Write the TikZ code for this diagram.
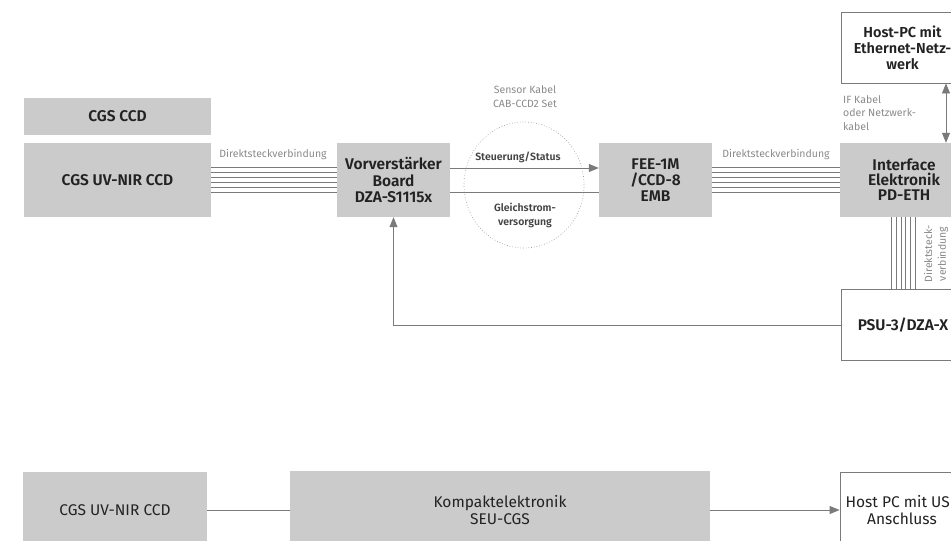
\documentclass[tikz,border=0pt]{standalone}
\usepackage{fontspec}
\setmainfont{Fira Sans}[BoldFont={Fira Sans SemiBold}]
\usetikzlibrary{arrows.meta}
\definecolor{boxgray}{HTML}{CBCBCB}
\definecolor{linegray}{HTML}{7A7A7A}
\definecolor{labelgray}{HTML}{8A8A8A}
\definecolor{textdark}{HTML}{222222}
\tikzset{
  graybox/.style={fill=boxgray, draw=none, inner sep=0pt, align=center, text=textdark,
    font=\fontsize{15.5}{16}\selectfont\bfseries},
  whitebox/.style={fill=white, draw=linegray, line width=0.8pt, inner sep=0pt, align=center, text=textdark,
    font=\fontsize{15.5}{16}\selectfont\bfseries},
  botbox/.style={fill=boxgray, draw=none, inner sep=0pt, align=center, text=textdark,
    font=\fontsize{15.5}{17}\selectfont},
  botwhite/.style={fill=white, draw=linegray, line width=0.8pt, inner sep=0pt, align=center, text=textdark,
    font=\fontsize{15.5}{17}\selectfont},
  lbl/.style={text=labelgray, inner sep=0pt, font=\fontsize{10.5}{13.5}\selectfont},
  darklbl/.style={text=textdark!85, inner sep=0pt, font=\fontsize{10.5}{14}\selectfont\bfseries, align=center},
  wire/.style={draw=linegray, line width=0.8pt},
  thinwire/.style={draw=linegray, line width=0.6pt},
  tipped/.style={wire, -{Triangle[length=10pt,width=8pt]}},
  bothtipped/.style={wire, {Triangle[length=10pt,width=8pt]}-{Triangle[length=10pt,width=8pt]}},
}
\begin{document}
\begin{tikzpicture}[x=1pt,y=-1pt]
\useasboundingbox (0,0) rectangle (951,541);
\clip (0,0) rectangle (951,541);

% boxes top
\node[graybox, minimum width=187pt, minimum height=37pt] (ccd) at (117.5,116) {CGS CCD};
\node[graybox, minimum width=187pt, minimum height=74pt] (uvnir) at (117.5,180) {CGS UV-NIR CCD};
\node[graybox, minimum width=113pt, minimum height=74pt, font=\fontsize{15.5}{16.5}\selectfont\bfseries] (vorv) at (393.5,180) {Vorverstärker\\Board\\DZA-S1115x};
\node[graybox, minimum width=113pt, minimum height=74pt, font=\fontsize{15.5}{16}\selectfont\bfseries] (fee) at (655.5,180) {FEE-1M\\/CCD-8\\EMB};
\node[graybox, minimum width=128pt, minimum height=74pt, font=\fontsize{15.5}{15}\selectfont\bfseries] (iface) at (904,180) {Interface\\Elektronik\\PD-ETH};
\node[whitebox, minimum width=123pt, minimum height=71pt, font=\fontsize{14.5}{16}\selectfont\bfseries] (host) at (902.5,47.5) {Host-PC mit\\Ethernet-Netz-\\werk};
\node[whitebox, minimum width=123pt, minimum height=71pt] (psu) at (903,325) {PSU-3/DZA-X};

% bottom row
\node[botbox, minimum width=184pt, minimum height=76pt] (uvnir2) at (115,510) {CGS UV-NIR CCD};
\node[botbox, minimum width=420pt, minimum height=78pt] (kompakt) at (500,510) {Kompaktelektronik\\SEU-CGS};
\node[botwhite, minimum width=124pt, minimum height=76pt] (hostusb) at (902,510) {};
\node[text=textdark, inner sep=0pt, font=\fontsize{15.5}{17}\selectfont, anchor=east] (hu1) at (950,502) {Host PC mit US};
\node[text=textdark, inner sep=0pt, font=\fontsize{15.5}{17}\selectfont] (hu2) at (902,519) {Anschluss};

% parallel lines CCD -> Vorverstaerker
\foreach \yy in {167,172,177,182,187,192} {
  \coordinate (la) at (0,\yy);
  \draw[thinwire] (uvnir.east |- la) -- (vorv.west |- la);
  \draw[thinwire] (fee.east |- la) -- (iface.west |- la);
}
\node[lbl] (d1) at (273,155) {Direktsteckverbindung};
\node[lbl] (d2) at (776,155) {Direktsteckverbindung};

% vertical lines Interface -> PSU
\foreach \xx in {891,896,901,905.5,910,915} {
  \coordinate (lb) at (\xx,0);
  \draw[thinwire] (lb |- iface.south) -- (lb |- psu.north);
}
\node[lbl, rotate=90] (d3a) at (928,254) {Direktsteck-};
\node[lbl, rotate=90] (d3b) at (943,254) {verbindung};

% sensor cable
\draw[labelgray!80, dotted, line width=0.7pt] (524,185) ellipse [x radius=60pt, y radius=63pt];
\node[lbl] (sk1) at (525,90) {Sensor Kabel};
\node[lbl] (sk2) at (525,103.5) {CAB-CCD2 Set};
\coordinate (s1) at (0,168);
\coordinate (s2) at (0,192);
\draw[tipped] (vorv.east |- s1) -- (fee.west |- s1);
\draw[wire] (vorv.east |- s2) -- (fee.west |- s2);
\node[darklbl] (st) at (518,157) {Steuerung/Status};
\node[darklbl] (gs) at (525,215) {Gleichstrom-\\versorgung};

% host <-> interface
\coordinate (hx) at (946,0);
\draw[bothtipped] (hx |- host.south) -- (hx |- iface.north);
\node[lbl, anchor=west, align=left] (ifk) at (843,113) {IF Kabel\\oder Netzwerk-\\kabel};

% PSU -> Vorverstaerker
\draw[tipped] (psu.west) -| (vorv.south);

% bottom connectors
\draw[wire] (uvnir2.east) -- (kompakt.west);
\draw[tipped] (kompakt.east) -- (hostusb.west);
\end{tikzpicture}
\end{document}
